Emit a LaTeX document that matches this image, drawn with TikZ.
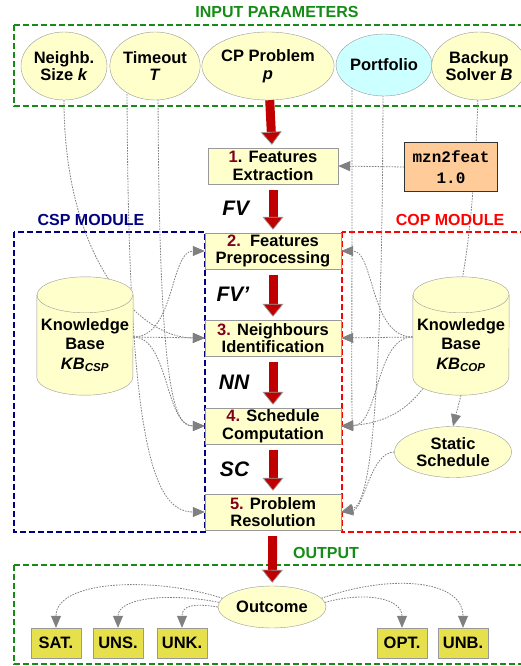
\documentclass[tikz,border=0pt]{standalone}
\usepackage{fontspec}
\setmainfont{Liberation Sans}
\setmonofont{Liberation Mono}
\usetikzlibrary{positioning,arrows.meta,shapes.geometric}

\definecolor{boxy}{HTML}{FFFFCC}
\definecolor{cyanb}{HTML}{CCFFFF}
\definecolor{peach}{HTML}{FFCC99}
\definecolor{outy}{HTML}{E6E04C}
\definecolor{darkr}{HTML}{C00000}
\definecolor{numr}{HTML}{800020}
\definecolor{grn}{HTML}{158C15}
\definecolor{navy}{HTML}{000080}
\definecolor{edg}{HTML}{999999}

\pgfdeclarelayer{bg}
\pgfdeclarelayer{mid}
\pgfsetlayers{bg,mid,main}

\begin{document}
\begin{tikzpicture}[x=1pt,y=-1pt,
 lb/.style={font=\fontsize{16.5}{17.5}\selectfont\bfseries,align=center},
 inp/.style={lb,ellipse,draw=edg,fill=boxy,inner sep=0pt},
 stp/.style={lb,rectangle,draw=edg,fill=boxy,minimum width=136pt,minimum height=36pt,inner sep=0pt},
 kb/.style={lb,font=\fontsize{16.5}{19.5}\selectfont\bfseries,minimum width=96pt,minimum height=100pt,inner sep=0pt},
 cyl/.style={draw=edg,fill=boxy},
 res/.style={lb,draw=edg,fill=outy,minimum width=50pt,minimum height=30pt,inner sep=0pt},
 frm/.style={line width=2pt,dash pattern=on 6pt off 3pt},
 ttl/.style={font=\fontsize{16}{17}\selectfont\bfseries},
 vr/.style={font=\fontsize{21}{24}\selectfont\bfseries\itshape},
 big/.style={darkr,line width=9pt,-{Triangle[width=21pt,length=13pt,line width=0.7pt,color=edg,fill=darkr]},shorten <=6pt,shorten >=3pt},
 dl/.style={gray,line width=0.8pt,dash pattern=on 1.6pt off 1.2pt,-{Triangle[width=10pt,length=12pt,fill=gray]}}]
\useasboundingbox (0,0) rectangle (521,666);

% titles
\node[ttl,grn] (tin) at (277,12) {INPUT PARAMETERS};
\node[ttl,navy] (tcsp) at (91,220) {CSP MODULE};
\node[ttl,red] (tcop) at (450,220) {COP MODULE};
\node[ttl,grn] (tout) at (326,553) {OUTPUT};

% input parameters
\node[inp,minimum width=86pt,minimum height=68pt] (nk) at (64,66) {Neighb.\\Size \textit{k}};
\node[inp,minimum width=83pt,minimum height=68pt] (tm) at (155,66) {Timeout\\\textit{T}};
\node[inp,minimum width=123pt,minimum height=68pt] (cp) at (268,66) {CP Problem\\\textit{p}};
\node[inp,fill=cyanb,minimum width=93pt,minimum height=62pt] (pf) at (384,65) {Portfolio};
\node[inp,minimum width=86pt,minimum height=68pt] (bk) at (479,66) {Backup\\Solver \textit{B}};

% steps
\node[stp,minimum width=130pt] (fe) at (273,166) {{\color{numr}1}. Features\\Extraction};
\node[stp] (fp) at (273,251) {{\color{numr}2.}\ \ Features\\Preprocessing};
\node[stp] (ni) at (273,338) {{\color{numr}3.} Neighbours\\Identification};
\node[stp] (sc) at (273,426) {{\color{numr}4.} Schedule\\Computation};
\node[stp] (pr) at (273,512) {{\color{numr}5.} Problem\\Resolution};

\node[draw=black!80,fill=peach,minimum width=93pt,minimum height=49pt,align=center,
  font=\fontsize{16}{21}\selectfont\ttfamily\bfseries] (mz) at (451,167) {mzn2feat\\1.0};

% knowledge bases
\node[kb] (kbc) at (85,345) {Knowledge\\Base\\\textit{KB\textsubscript{CSP}}};
\node[kb] (kbo) at (461,345) {Knowledge\\Base\\\textit{KB\textsubscript{COP}}};
\begin{pgfonlayer}{mid}
\foreach \k in {kbc,kbo}{
  \path[cyl] (\k.north west) -- ([yshift=18pt]\k.south west)
    arc[start angle=180,end angle=360,x radius=48pt,y radius=18pt]
    -- (\k.north east) arc[start angle=0,end angle=180,x radius=48pt,y radius=18pt] -- cycle;
  \draw[edg] (\k.north west) arc[start angle=180,end angle=360,x radius=48pt,y radius=18pt];
}
\end{pgfonlayer}
\node[inp,minimum width=117pt,minimum height=51pt] (ss) at (453,452) {Static\\Schedule};

% output
\node[inp,minimum width=108pt,minimum height=42pt] (oc) at (272,607) {Outcome};
\node[res] (sat) at (56,643) {SAT.};
\node[res] (uns) at (118,643) {UNS.};
\node[res] (unk) at (182,643) {UNK.};
\node[res] (opt) at (402,643) {OPT.};
\node[res] (unb) at (463,643) {UNB.};

\begin{pgfonlayer}{bg}
\draw[frm,grn] (14,25) rectangle (530,106);
\draw[frm,navy] (14,232) rectangle (205,532);
\draw[frm,red] (342,232) rectangle (530,532);
\draw[frm,grn] (14,565) rectangle (530,664);

% csp side
\draw[dl] (nk) .. controls +(0,194) and +(-65,0) .. (ni.west);
\draw[dl] ([xshift=-28pt]tm.center) .. controls +(0,364) and +(-55,0) .. (pr.west);
\draw[dl] ([xshift=3pt]tm.center) .. controls +(0,334) and +(-30,0) .. (sc.west);
\draw[dl] ([yshift=8pt]kbc.east) .. controls +(42,0) and +(-35,0) .. (fp.west);
\draw[dl] ([yshift=8pt]kbc.east) -- (ni.west);
\draw[dl] ([yshift=8pt]kbc.east) .. controls +(36,0) and +(-40,0) .. (sc.west);

% cop side
\draw[dl] (mz.west) -- (fe.east);
\draw[dl] ([xshift=-32pt]pf.center) .. controls +(0,345) and +(10,0) .. (sc.east);
\draw[dl] ([xshift=-1pt]pf.center) .. controls +(0,355) and +(28,-8) .. (pr.east);
\draw[dl] (bk) .. controls +(-9,264) and +(98,-6) .. (sc.east);
\draw[dl] ([yshift=8pt]kbo.west) .. controls +(-43,0) and +(33,0) .. (fp.east);
\draw[dl] ([yshift=8pt]kbo.west) -- (ni.east);
\draw[dl] ([yshift=8pt]kbo.west) .. controls +(-38,0) and +(38,0) .. (sc.east);
\draw[dl] (kbo.south) -- (ss.north);
\draw[dl] (ss.west) .. controls +(-24,0) and +(23,-3) .. (pr.east);

% outcomes
\draw[dl] (oc.170) .. controls +(-68,-22) and +(0,-48) .. (sat.north);
\draw[dl] (oc.175) .. controls +(-50,-10) and +(0,-30) .. (uns.north);
\draw[dl] (oc.180) .. controls +(-25,-4) and +(0,-22) .. (unk.north);
\draw[dl] (oc.5) .. controls +(45,-12) and +(0,-28) .. (opt.north);
\draw[dl] (oc.10) .. controls +(70,-25) and +(0,-48) .. (unb.north);
\end{pgfonlayer}

% main flow
\draw[big,shorten <=0pt] (cp) -- (fe);
\draw[big] (fe) -- node[vr,black,midway,left=16pt] (fv) {FV} (fp);
\draw[big] (fp) -- node[vr,black,midway,left=16pt] (fvp) {FV'} (ni);
\draw[big] (ni) -- node[vr,black,midway,left=16pt] (nn) {NN} (sc);
\draw[big] (sc) -- node[vr,black,midway,left=16pt] (scl) {SC} (pr);
\draw[big] (pr) -- (oc);
\end{tikzpicture}
\end{document}
